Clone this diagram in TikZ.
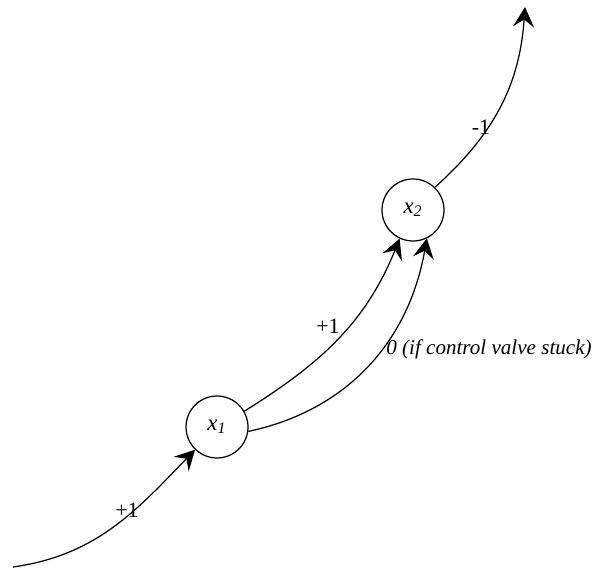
\documentclass[tikz,border=0pt]{standalone}
\usepackage{fontspec}
\setmainfont{Liberation Serif}
\usetikzlibrary{arrows.meta,positioning}
\tikzset{
	state/.style={draw, circle, line width=0.7pt, minimum size=12.4mm, inner sep=0pt,
		font=\itshape\fontsize{13}{15}\selectfont},
	flow/.style={line width=0.7pt, -{Stealth[length=4mm, width=4.2mm, inset=1.5mm]}},
	lbl/.style={font=\fontsize{12.5}{14}\selectfont, inner sep=1pt},
}

\begin{document}
\begin{tikzpicture}[x=0.02cm, y=0.02cm]
	\useasboundingbox (0,0) rectangle (594,568);
	\node[state] at (217,141) (x1) {x\textsubscript{1}};
	\node[state] at (413,358) (x2) {x\textsubscript{2}};
	\coordinate (src) at (13,1);
	\coordinate (snk) at (525,561);
	\draw[flow] (src) to[out=8, in=226] (x1);
	\draw[flow] (x1.30) to[out=32, in=248] (x2.245);
	\draw[flow] (x1.-8) to[out=12, in=260] (x2.296);
	\draw[flow] (x2.46) to[out=42, in=266] (snk);
	\node[lbl] at (127,58) {+1};
	\node[lbl] at (328,242) {+1};
	\node[lbl, font=\itshape\fontsize{12}{14}\selectfont] at (489,219) {0 (if control valve stuck)};
	\node[lbl] at (481,441) {-1};
\end{tikzpicture}
\end{document}
